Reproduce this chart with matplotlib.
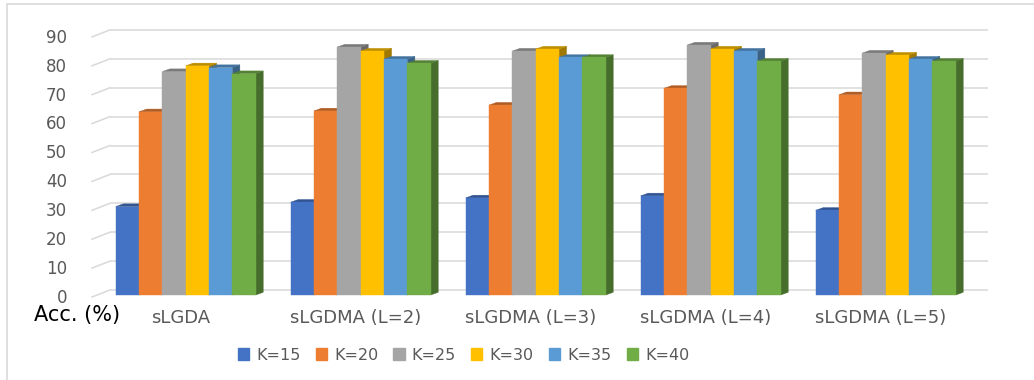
import matplotlib
matplotlib.use("Agg")
import matplotlib.pyplot as plt
from matplotlib.patches import Polygon, Patch, Rectangle

groups = ["sLGDA", "sLGDMA (L=2)", "sLGDMA (L=3)", "sLGDMA (L=4)", "sLGDMA (L=5)"]
series = ["K=15", "K=20", "K=25", "K=30", "K=35", "K=40"]

k15 = [30.6, 32.1, 33.6, 34.3, 29.3]
k20 = [63.4, 63.7, 65.7, 71.5, 69.3]
k25 = [77.3, 85.8, 84.4, 86.5, 83.7]
k30 = [79.3, 84.4, 85.1, 85.1, 83.0]
k35 = [78.7, 81.6, 82.2, 84.4, 81.6]
k40 = [76.6, 80.2, 82.2, 80.9, 80.9]

yticks = [0, 10, 20, 30, 40, 50, 60, 70, 80, 90]

colors = ["#4472C4", "#ED7D31", "#A5A5A5", "#FFC000", "#5B9BD5", "#70AD47"]


def shade(c, f):
    r, g, b = matplotlib.colors.to_rgb(c)
    return (r * f, g * f, b * f)


W, H = 1034, 380
fig = plt.figure(figsize=(W / 100, H / 100), dpi=100)
ax = fig.add_axes([0, 0, 1, 1])

# pixel layout of the fake 3d plot: group centre spacing and value scale
x0_px, group_px = 185.7, 175.0
y0_px, unit_px = 295.0, 2.89
ax.set_xlim(-x0_px / group_px, (W - x0_px) / group_px)
ax.set_ylim((y0_px - H) / unit_px, y0_px / unit_px)
ax.axis("off")

# depth offsets (data units) for bar depth, back wall and floor front
bar_dx, bar_dy = 7.5 / group_px, 2.7 / unit_px
wall_dx, wall_dy = 12.6 / group_px, 5.0 / unit_px
front_dx, front_dy = -5.4 / group_px, -2.0 / unit_px
wall_left = (110 - x0_px) / group_px
wall_right = (988 - x0_px) / group_px

grid_c = "#D9D9D9"
for v in yticks:
    ax.plot([wall_left, wall_right], [v + wall_dy, v + wall_dy], color=grid_c, lw=1.1, zorder=1,
            solid_capstyle="butt")
    ax.plot([wall_left - wall_dx + front_dx, wall_left], [v + front_dy, v + wall_dy],
            color=grid_c, lw=1.1, zorder=1)
    ax.text((67 - x0_px) / group_px, v + front_dy - 0.3, str(v), ha="right", va="center",
            fontsize=12, color="#595959")

data = [k15, k20, k25, k30, k35, k40]
group_w = 0.8
bw = group_w / len(series)
for g in range(len(groups)):
    for k, vals in enumerate(data):
        h = vals[g]
        xl = g - group_w / 2 + k * bw
        xr = xl + bw
        side = Polygon([(xr, 0), (xr + bar_dx, bar_dy), (xr + bar_dx, h + bar_dy), (xr, h)],
                       closed=True, facecolor=shade(colors[k], 0.63),
                       edgecolor=shade(colors[k], 0.63), lw=0.3, zorder=2)
        top = Polygon([(xl, h), (xr, h), (xr + bar_dx, h + bar_dy), (xl + bar_dx, h + bar_dy)],
                      closed=True, facecolor=shade(colors[k], 0.74),
                      edgecolor=shade(colors[k], 0.74), lw=0.3, zorder=2)
        front = Rectangle((xl, 0), bw, h, facecolor=colors[k], edgecolor=colors[k],
                          lw=0.3, zorder=2)
        ax.add_patch(side)
        ax.add_patch(top)
        ax.add_patch(front)

for g, name in enumerate(groups):
    ax.text(g + front_dx, (y0_px - 318) / unit_px, name, ha="center", va="center",
            fontsize=13, color="#595959")

ax.text((77 - x0_px) / group_px, (y0_px - 315) / unit_px, "Acc. (%)", ha="center",
        va="center", fontsize=15, color="black")

handles = [Patch(facecolor=c, edgecolor=c) for c in colors]
fig.legend(handles, series, loc="center", bbox_to_anchor=(463.5 / W, 1 - 355 / H), ncol=6,
           frameon=False, fontsize=11.5, handlelength=0.7, handleheight=0.7,
           handletextpad=0.45, columnspacing=0.95, labelcolor="#595959")

# chart area border
fig.patches.append(Rectangle((7 / W, -0.1), 1.1, 1.1 - 3.5 / H, transform=fig.transFigure,
                             fill=False, edgecolor=grid_c, lw=1.2))

fig.savefig("out.png", dpi=100)
